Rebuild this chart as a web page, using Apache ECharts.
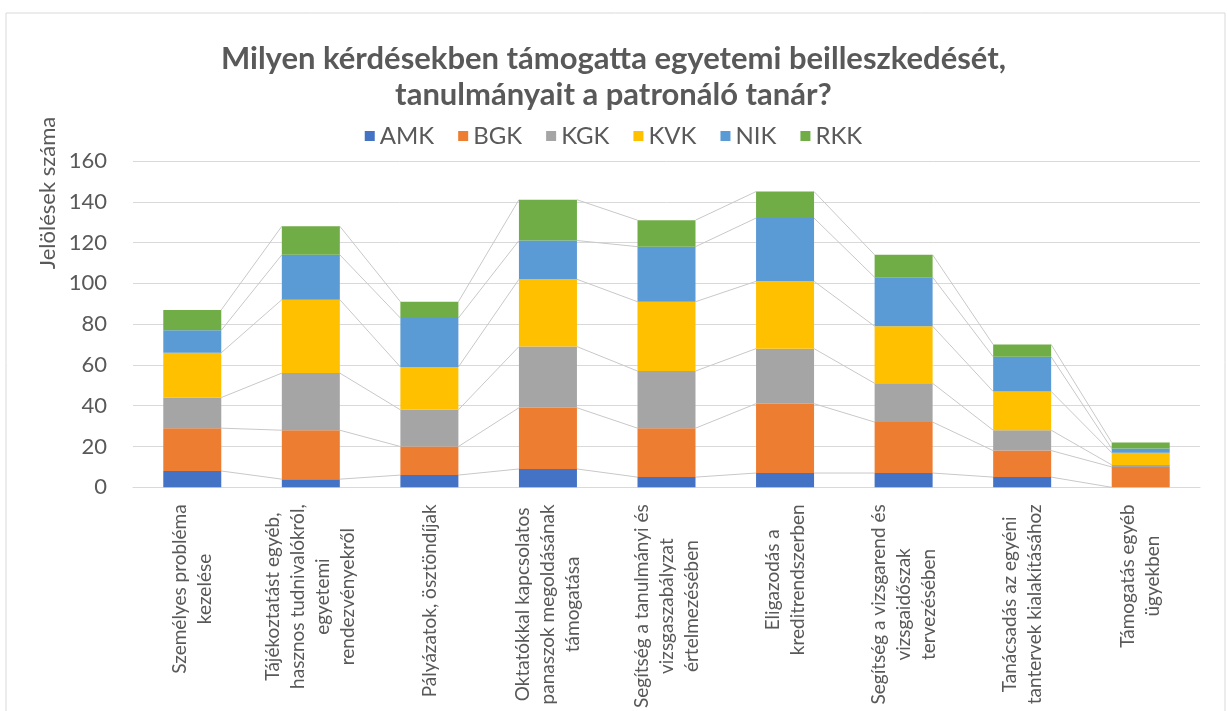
<!DOCTYPE html>
<html>
<head>
<meta charset="utf-8">
<script src="https://cdn.jsdelivr.net/npm/echarts@6/dist/echarts.min.js"></script>
<style>
  html, body { margin: 0; padding: 0; background: #fff; }
  #chart { width: 1227px; height: 711px; }
</style>
</head>
<body>
<div id="chart"></div>
<script>
// kategóriák és értékek
const categories = [
  'Személyes probléma\nkezelése',
  'Tájékoztatást egyéb,\nhasznos tudnivalókról,\negyetemi\nrendezvényekről',
  'Pályázatok, ösztöndíjak',
  'Oktatókkal kapcsolatos\npanaszok megoldásának\ntámogatása',
  'Segítség a tanulmányi és\nvizsgaszabályzat\nértelmezésében',
  'Eligazodás a\nkreditrendszerben',
  'Segítség a vizsgarend és\nvizsgaidőszak\ntervezésében',
  'Tanácsadás az egyéni\ntantervek kialakításához',
  'Támogatás egyéb\nügyekben'
];
const seriesNames = ['AMK', 'BGK', 'KGK', 'KVK', 'NIK', 'RKK'];
const amk = [8, 4, 6, 9, 5, 7, 7, 5, 0];
const bgk = [21, 24, 14, 30, 24, 34, 25, 13, 10];
const kgk = [15, 28, 18, 30, 28, 27, 19, 10, 1];
const kvk = [22, 36, 21, 33, 34, 33, 28, 19, 6];
const nik = [11, 22, 24, 19, 27, 31, 24, 17, 2];
const rkk = [10, 14, 8, 20, 13, 13, 11, 6, 3];
const yTicks = [0, 20, 40, 60, 80, 100, 120, 140, 160];

const values = [amk, bgk, kgk, kvk, nik, rkk];
const colors = ['#4472C4', '#ED7D31', '#A5A5A5', '#FFC000', '#5B9BD5', '#70AD47'];
const textColor = '#595959';
const font = 'Lato';
const barWidth = 58;

const chart = echarts.init(document.getElementById('chart'));

// halmozott összegek a sorozatvonalakhoz
function cumAt(i) {
  let s = 0;
  return values.map(v => (s += v[i]));
}

const barSeries = seriesNames.map((name, k) => ({
  name: name,
  type: 'bar',
  stack: 'total',
  barWidth: barWidth,
  itemStyle: { color: colors[k] },
  data: values[k],
  z: 3
}));

// Excel-szerű sorozatvonalak a szomszédos oszlopok között
const seriesLines = {
  type: 'custom',
  name: 'lines',
  silent: true,
  z: 2,
  data: categories.slice(0, -1).map((c, i) => [i]),
  encode: { x: 0 },
  renderItem: function (params, api) {
    const i = api.value(0);
    const a = cumAt(i);
    const b = cumAt(i + 1);
    const children = a.map((v, k) => {
      const p1 = api.coord([i, v]);
      const p2 = api.coord([i + 1, b[k]]);
      return {
        type: 'line',
        shape: { x1: p1[0] + barWidth / 2, y1: p1[1], x2: p2[0] - barWidth / 2, y2: p2[1] },
        style: { stroke: '#C8C8C8', lineWidth: 1 }
      };
    });
    return { type: 'group', children: children };
  }
};

const option = {
  animation: false,
  textStyle: { fontFamily: font },
  title: {
    text: 'Milyen kérdésekben támogatta egyetemi beilleszkedését,\ntanulmányait a patronáló tanár?',
    left: 'center',
    top: 36,
    textStyle: { fontFamily: font, fontSize: 31, fontWeight: 'bold', color: textColor, lineHeight: 36 }
  },
  legend: {
    data: seriesNames,
    top: 119,
    left: 'center',
    icon: 'rect',
    itemWidth: 10,
    itemHeight: 10,
    itemGap: 24,
    textStyle: { fontFamily: font, fontSize: 24, color: textColor }
  },
  graphic: [
    {
      type: 'rect',
      shape: { x: 6, y: 13, width: 1219, height: 720 },
      style: { fill: 'none', stroke: '#D9D9D9', lineWidth: 1 },
      silent: true
    },
    {
      type: 'text',
      x: 48,
      y: 193,
      rotation: Math.PI / 2,
      style: {
        text: 'Jelölések száma',
        fontFamily: font,
        fontSize: 22,
        fill: textColor,
        align: 'center',
        verticalAlign: 'middle'
      }
    }
  ],
  grid: { left: 133, right: 27, top: 161, bottom: 223, containLabel: false },
  xAxis: {
    type: 'category',
    data: categories,
    axisLine: { lineStyle: { color: '#D9D9D9' } },
    axisTick: { show: false },
    axisLabel: {
      interval: 0,
      rotate: 90,
      margin: 17,
      formatter: function (value) {
        return value.split('\n').map(l => '{c|' + l + '}').join('\n');
      },
      rich: {
        c: { align: 'center', fontFamily: font, fontSize: 19, lineHeight: 25, color: textColor }
      }
    }
  },
  yAxis: {
    type: 'value',
    min: yTicks[0],
    max: yTicks[yTicks.length - 1],
    interval: 20,
    axisLine: { show: false },
    axisTick: { show: false },
    splitLine: { lineStyle: { color: '#D9D9D9' } },
    axisLabel: { fontFamily: font, fontSize: 22, color: textColor, margin: 26 }
  },
  series: barSeries.concat([seriesLines])
};

chart.setOption(option);
</script>
</body>
</html>
